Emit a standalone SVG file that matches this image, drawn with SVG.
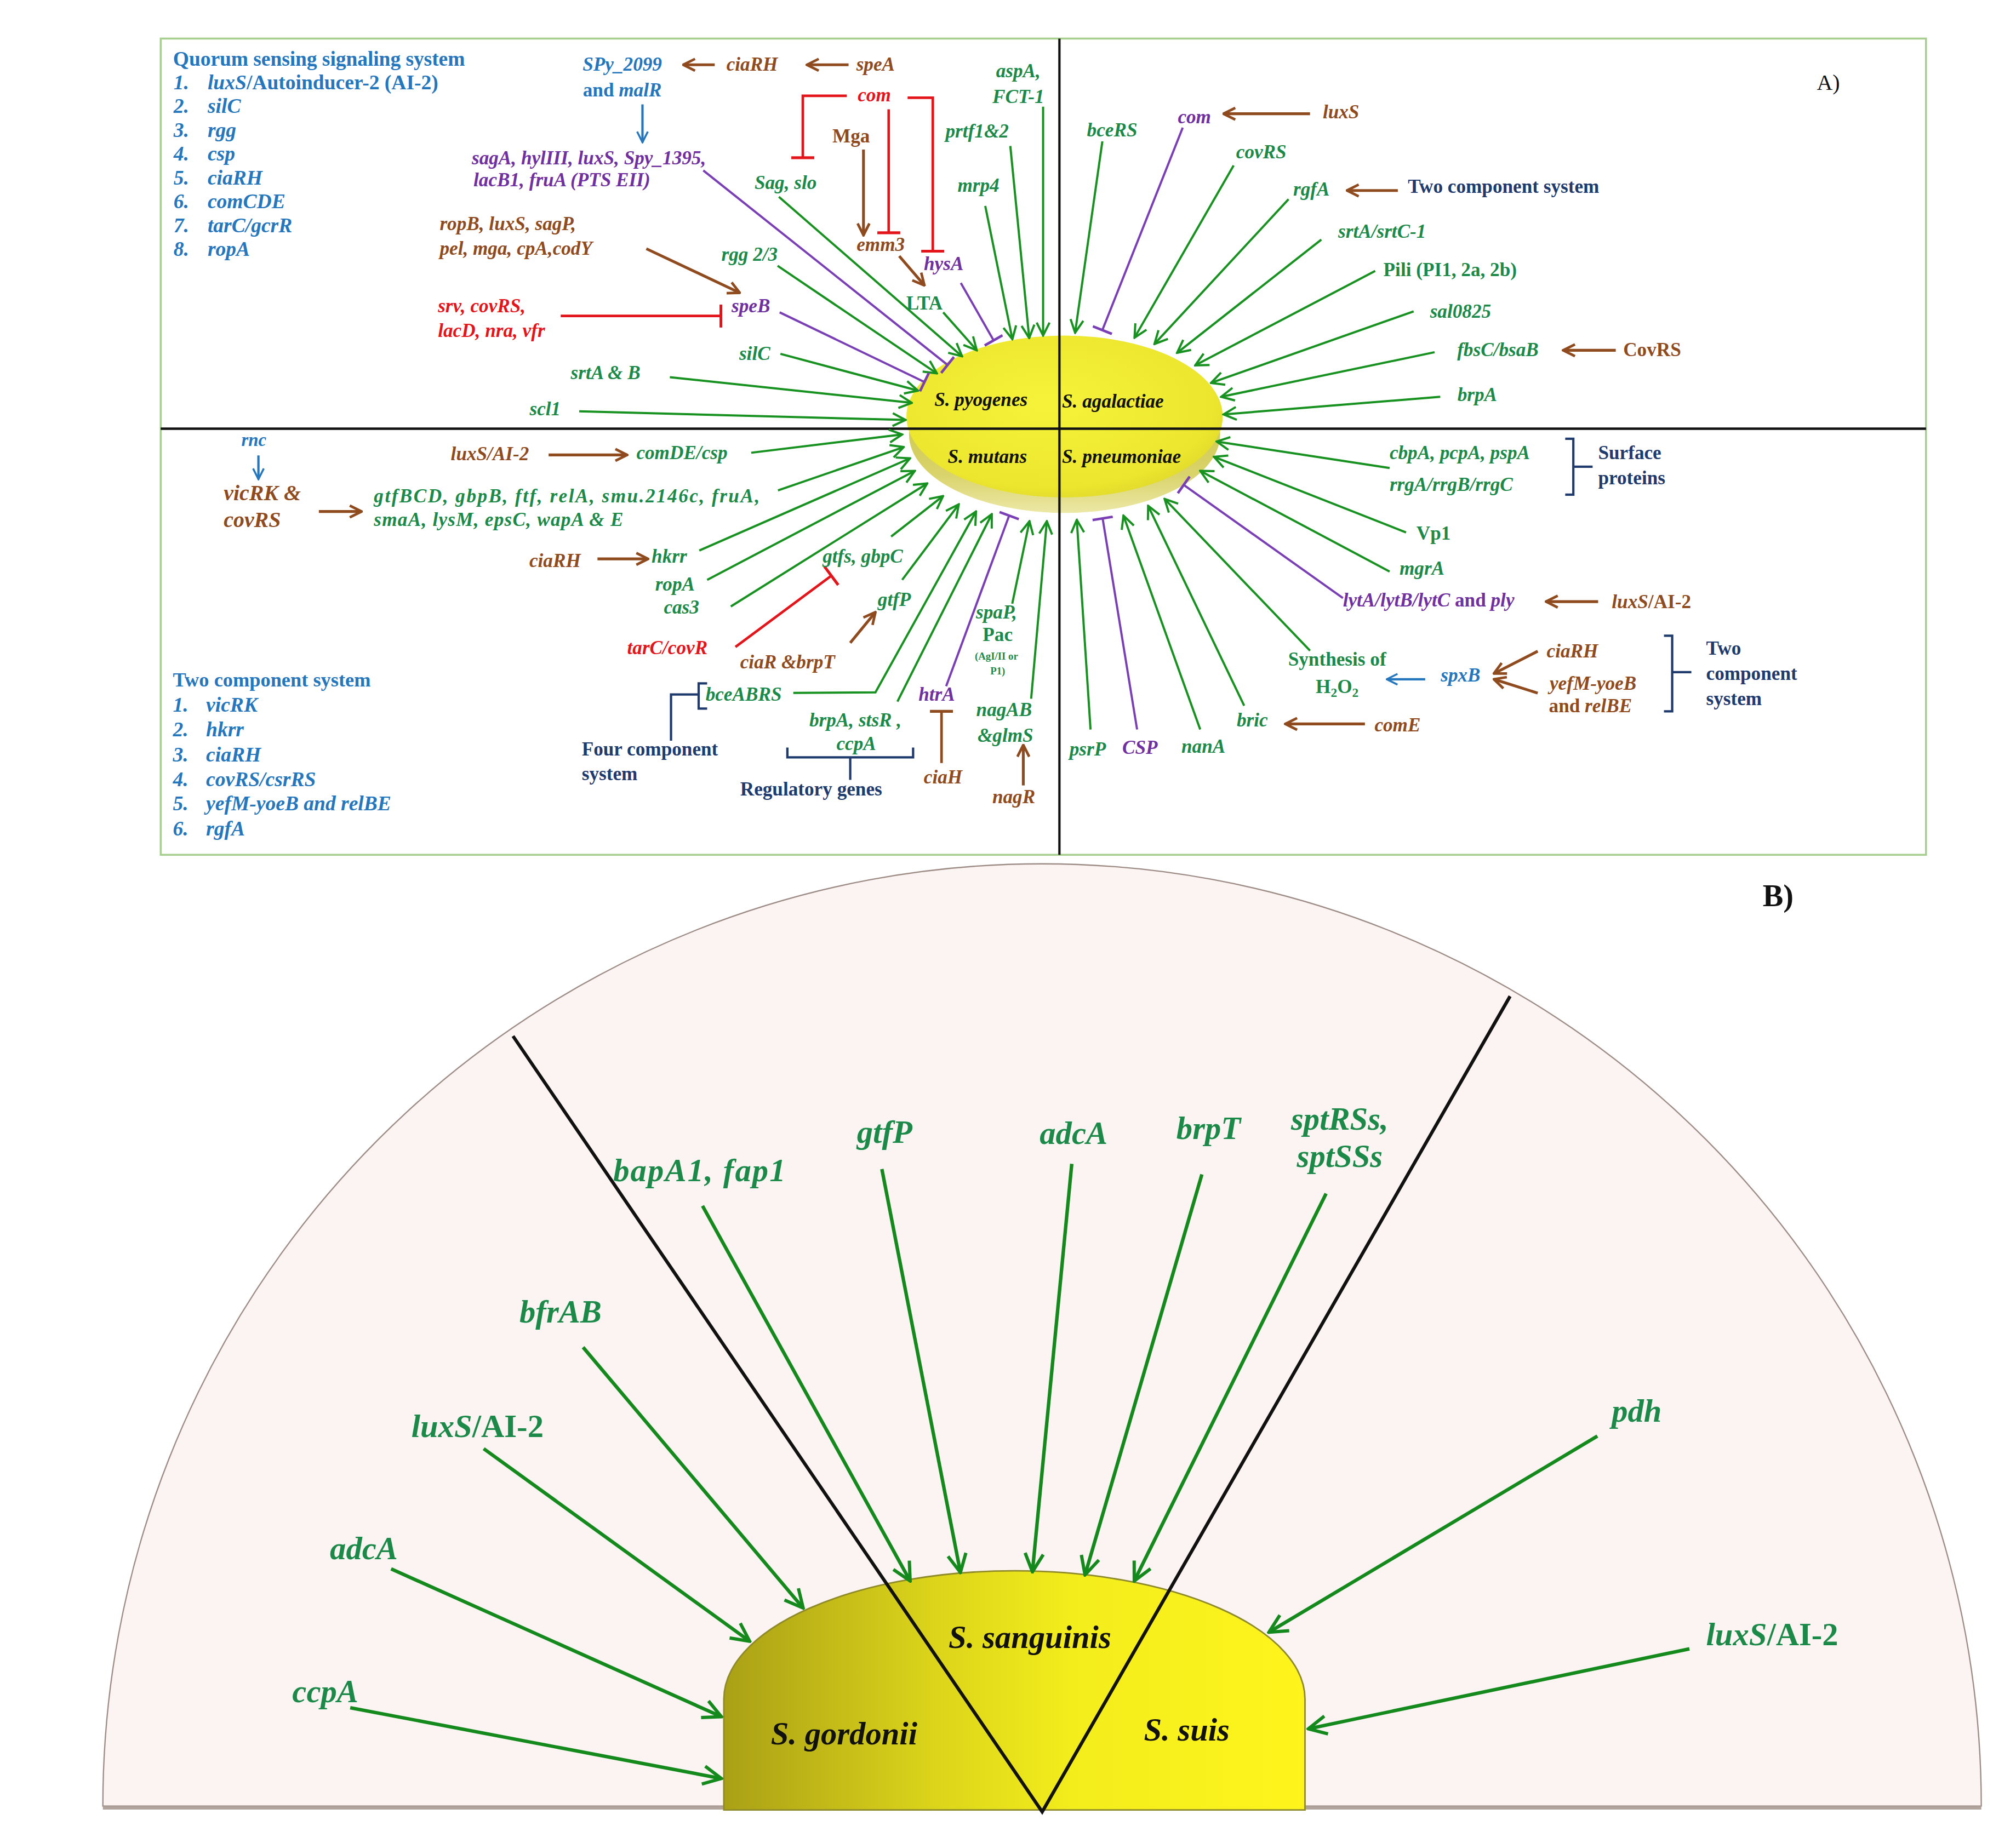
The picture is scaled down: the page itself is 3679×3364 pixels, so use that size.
<svg xmlns="http://www.w3.org/2000/svg" width="3679" height="3364" viewBox="0 0 3679 3364">
<style>
.t{font-family:"Liberation Serif","Times New Roman",serif;font-weight:bold;font-size:15px}
.i{font-style:italic}
.n{font-style:normal}
.g{fill:#1b8a48}.bl{fill:#2577bd}.pu{fill:#7030a0}.br{fill:#8f4a1d}.rd{fill:#e3151b}.nv{fill:#1f3b6e}.k{fill:#111}
.m{text-anchor:middle}
.L16{font-size:16px}.L17{font-size:17px}.B{font-size:25px}
.lg{stroke:#17911f;stroke-width:1.7;fill:none;marker-end:url(#ag)}
.lp{stroke:#7a3fb5;stroke-width:1.7;fill:none;marker-end:url(#tp)}
.lr{stroke:#e3151b;stroke-width:2;fill:none;marker-end:url(#tr)}
.lt{stroke:#8f4a1d;stroke-width:2;fill:none;marker-end:url(#tb)}
.lb{stroke:#8f4a1d;stroke-width:2.2;fill:none;marker-end:url(#ab)}
.lbl{stroke:#2577bd;stroke-width:1.8;fill:none;marker-end:url(#abl)}
.nvl{stroke:#1f3b6e;stroke-width:1.8;fill:none}
.lB{stroke:#14891c;stroke-width:2.7;fill:none;marker-end:url(#aB)}
</style>
<defs>
<marker id="ag" viewBox="0 0 12 12" refX="11" refY="6" markerWidth="12" markerHeight="12" orient="auto" markerUnits="userSpaceOnUse"><path d="M1,1 L11,6 L1,11" fill="none" stroke="#17911f" stroke-width="1.7"/></marker>
<marker id="ab" viewBox="0 0 12 12" refX="11" refY="6" markerWidth="11" markerHeight="11" orient="auto" markerUnits="userSpaceOnUse"><path d="M1,1 L11,6 L1,11" fill="none" stroke="#8f4a1d" stroke-width="2.2"/></marker>
<marker id="abl" viewBox="0 0 12 12" refX="11" refY="6" markerWidth="10" markerHeight="10" orient="auto" markerUnits="userSpaceOnUse"><path d="M1,1 L11,6 L1,11" fill="none" stroke="#2577bd" stroke-width="1.8"/></marker>
<marker id="aB" viewBox="0 0 12 12" refX="11" refY="6" markerWidth="17" markerHeight="17" orient="auto" markerUnits="userSpaceOnUse"><path d="M1,1 L11,6 L1,11" fill="none" stroke="#14891c" stroke-width="1.8"/></marker>
<marker id="tp" viewBox="0 0 4 16" refX="2" refY="8" markerWidth="4" markerHeight="16" orient="auto" markerUnits="userSpaceOnUse"><path d="M2,0 V16" stroke="#7a3fb5" stroke-width="2"/></marker>
<marker id="tr" viewBox="0 0 4 18" refX="2" refY="9" markerWidth="4" markerHeight="18" orient="auto" markerUnits="userSpaceOnUse"><path d="M2,0 V18" stroke="#e3151b" stroke-width="2.2"/></marker>
<marker id="tb" viewBox="0 0 4 18" refX="2" refY="9" markerWidth="4" markerHeight="18" orient="auto" markerUnits="userSpaceOnUse"><path d="M2,0 V18" stroke="#8f4a1d" stroke-width="2.2"/></marker>
<radialGradient id="face" cx="0.45" cy="0.42" r="0.65"><stop offset="0" stop-color="#f6f33a"/><stop offset="0.8" stop-color="#ece62e"/><stop offset="1" stop-color="#dcd52a"/></radialGradient>
<linearGradient id="rim" x1="0" y1="0" x2="0" y2="1"><stop offset="0" stop-color="#c4bd34"/><stop offset="0.75" stop-color="#d9d36a"/><stop offset="1" stop-color="#ece8a6"/></linearGradient>
<linearGradient id="dome" x1="563" y1="0" x2="1015" y2="0" gradientUnits="userSpaceOnUse"><stop offset="0" stop-color="#aaa016"/><stop offset="0.35" stop-color="#dad31a"/><stop offset="0.6" stop-color="#f3ed1c"/><stop offset="1" stop-color="#fff51c"/></linearGradient>
</defs>
<rect width="3679" height="3364" fill="#fff"/>
<g transform="scale(2.3463)">
<g id="panelA-frame">
<rect x="125" y="30" width="1373" height="635" fill="none" stroke="#a6cf8f" stroke-width="1.5"/>
</g>
<g id="node-ellipse">
<ellipse cx="828" cy="338" rx="121" ry="61" fill="url(#rim)"/>
<ellipse cx="828" cy="324" rx="123" ry="63" fill="url(#face)"/>
</g>
<g id="dividers-A">
<line x1="824" y1="30" x2="824" y2="665" stroke="#111" stroke-width="1.8"/>
<line x1="125" y1="333.5" x2="1498" y2="333.5" stroke="#111" stroke-width="2"/>
</g>
<g id="species-A" class="t i k">
<text x="763" y="316" class="m">S. pyogenes</text>
<text x="826" y="317">S. agalactiae</text>
<text x="768" y="360" class="m">S. mutans</text>
<text x="826" y="360">S. pneumoniae</text>
</g>
<g id="connectors">
<path class="lg" d="M450.5,320 L704.3,326.7"/>
<path class="lg" d="M521,293.4 L709.2,313.4"/>
<path class="lg" d="M607,275.3 L714,303.9"/>
<path class="lg" d="M604.8,206.8 L728.7,290.5"/>
<path class="lg" d="M605.8,153.1 L748.3,277.2"/>
<path class="lg" d="M733.6,243 L759.7,272.5"/>
<path class="lg" d="M766.3,160.2 L787.4,263.9"/>
<path class="lg" d="M785.8,113.6 L800.5,263"/>
<path class="lg" d="M811.3,83 L811.3,261"/>
<path class="lg" d="M857.4,110 L836.2,258.8"/>
<path class="lg" d="M959.5,128.7 L882.4,262.7"/>
<path class="lg" d="M1002.2,155 L897.9,267.6"/>
<path class="lg" d="M1027.7,186.4 L915.5,274.5"/>
<path class="lg" d="M1069.6,210.8 L929.6,284.2"/>
<path class="lg" d="M1099.5,242.2 L941.9,297.9"/>
<path class="lg" d="M1115.8,274 L949.8,308.7"/>
<path class="lg" d="M1120.2,308.7 L951.6,322.4"/>
<path class="lg" d="M584.3,352.2 L701.7,338"/>
<path class="lg" d="M605.1,381.5 L702.9,347.8"/>
<path class="lg" d="M543.9,428.3 L707.8,356.5"/>
<path class="lg" d="M550,451.1 L711.5,366.3"/>
<path class="lg" d="M568.4,471.8 L721.2,376.1"/>
<path class="lg" d="M693.1,417.4 L733.5,385.9"/>
<path class="lg" d="M701.7,451.1 L745.7,392.4"/>
<path class="lg" d="M617,539 L680.9,538.6 L759.1,397.9"/>
<path class="lg" d="M698,545.8 L771.4,400"/>
<path class="lg" d="M787.3,469.6 L800.7,405.5"/>
<path class="lg" d="M802,543.6 L814.2,405.5"/>
<path class="lg" d="M848.2,567.5 L837.5,404.4"/>
<path class="lg" d="M933.5,567.5 L873.8,401.1"/>
<path class="lg" d="M967.7,549 L893,393.5"/>
<path class="lg" d="M1018.9,506.2 L905.8,388.1"/>
<path class="lg" d="M1080.8,444.6 L933.5,366.3"/>
<path class="lg" d="M1093.6,414.2 L944.2,355.4"/>
<path class="lg" d="M1080.8,364.1 L946.3,343.5"/>
<path class="lp" d="M547,132.6 L737,283.9"/>
<path class="lp" d="M606.4,243 L719,297.2"/>
<path class="lp" d="M747.3,220.1 L772.8,264.8"/>
<path class="lp" d="M919.9,99.3 L857.4,256.8"/>
<path class="lp" d="M735.9,533.8 L784.9,401.1"/>
<path class="lp" d="M884.4,567.5 L857.6,403.3"/>
<path class="lp" d="M1044.5,465.3 L920.7,377.2"/>
<path class="lr" d="M658.6,74.5 H624.4 V122.7"/>
<path class="lr" d="M705.9,76 H725.5 V195.4"/>
<path class="lr" d="M691.2,85 V181.1"/>
<path class="lr" d="M436.1,245.8 H560.7"/>
<path class="lr" d="M572,503.3 L646.6,447.9"/>
<path class="lt" d="M732.3,593.6 V553.4"/>
<path class="lb" d="M555.9,50.4 H531.4"/>
<path class="lb" d="M660,50.4 H627.6"/>
<path class="lb" d="M671.6,116.4 V183"/>
<path class="lb" d="M699.4,199.2 L719,222"/>
<path class="lb" d="M502.7,193.5 L575.4,227.8"/>
<path class="lb" d="M1018.9,88.5 H951.6"/>
<path class="lb" d="M1087.2,148.2 H1047.6"/>
<path class="lb" d="M1256.7,272.5 H1215.8"/>
<path class="lb" d="M248,397.9 H281.2"/>
<path class="lb" d="M426.7,353.9 H487.8"/>
<path class="lb" d="M464.7,434.8 H504.1"/>
<path class="lb" d="M661.3,500.1 L680.9,476.2"/>
<path class="lb" d="M795.9,611 V579.5"/>
<path class="lb" d="M1243,468 H1202.4"/>
<path class="lb" d="M1196,506.6 L1161.9,524"/>
<path class="lb" d="M1196,539.2 L1161.9,528.4"/>
<path class="lb" d="M1061.6,563.2 H999.7"/>
<path class="lbl" d="M499.7,81.2 V110.7"/>
<path class="lbl" d="M201,354.3 V372.8"/>
<path class="lbl" d="M1108.5,528.4 H1078.6"/>
<path class="nvl" d="M521.9,576.2 V540.3 H543.4 M550,531.6 H543.4 V551.2 H550"/>
<path class="nvl" d="M612.4,581.6 V589.2 H710.2 V581.6 M661.3,589.2 V606.7"/>
<path class="nvl" d="M1217.4,341.3 H1223.7 V384.8 H1217.4 M1223.7,363.1 H1238.7"/>
<path class="nvl" d="M1294.2,494.6 H1300.6 V553.4 H1294.2 M1300.6,522.9 H1315.5"/>
</g>
<g id="legend-quorum" class="t bl L16">
<text x="134.6" y="51" textLength="227">Quorum sensing signaling system</text>
<g class="i">
<text x="135" y="69.5">1.</text><text x="161.5" y="69.5">luxS<tspan class="n">/Autoinducer-2 (AI-2)</tspan></text>
<text x="135" y="88">2.</text><text x="161.5" y="88">silC</text>
<text x="135" y="106.5">3.</text><text x="161.5" y="106.5">rgg</text>
<text x="135" y="125">4.</text><text x="161.5" y="125">csp</text>
<text x="135" y="143.5">5.</text><text x="161.5" y="143.5">ciaRH</text>
<text x="135" y="162">6.</text><text x="161.5" y="162">comCDE</text>
<text x="135" y="180.5">7.</text><text x="161.5" y="180.5">tarC/gcrR</text>
<text x="135" y="199">8.</text><text x="161.5" y="199">ropA</text>
</g>
</g>
<g id="legend-tcs" class="t bl">
<text x="134.5" y="534" style="font-size:15.5px">Two component system</text>
<g class="i L16">
<text x="134.5" y="553.5">1.</text><text x="160.3" y="553.5">vicRK</text>
<text x="134.5" y="573">2.</text><text x="160.3" y="573">hkrr</text>
<text x="134.5" y="592.5">3.</text><text x="160.3" y="592.5">ciaRH</text>
<text x="134.5" y="611.5">4.</text><text x="160.3" y="611.5">covRS/csrRS</text>
<text x="134.5" y="630.5">5.</text><text x="160.3" y="630.5">yefM-yoeB and relBE</text>
<text x="134.5" y="650">6.</text><text x="160.3" y="650">rgfA</text>
</g>
</g>
<g id="labels-pyogenes" class="t i">
<text x="484" y="55" class="m bl">SPy_2099</text>
<text x="484" y="75" class="m bl"><tspan class="n">and </tspan>malR</text>
<text x="585" y="55" class="m br">ciaRH</text>
<text x="681" y="55" class="m br">speA</text>
<text x="458" y="128" class="m pu">sagA, hylIII, luxS, Spy_1395,</text>
<text x="437" y="145" class="m pu">lacB1, fruA (PTS EII)</text>
<text x="342" y="179" class="br">ropB, luxS, sagP,</text>
<text x="342" y="198" class="br">pel, mga, cpA,codY</text>
<text x="340.6" y="243" class="rd">srv, covRS,</text>
<text x="340.6" y="262" class="rd">lacD, nra, vfr</text>
<text x="680" y="79" class="m rd">com</text>
<text x="662" y="111" class="m br n">Mga</text>
<text x="685" y="195" class="m br">emm3</text>
<text x="611" y="147" class="m g">Sag, slo</text>
<text x="734" y="210" class="m pu">hysA</text>
<text x="719" y="241" class="m g n">LTA</text>
<text x="583" y="203" class="m g">rgg 2/3</text>
<text x="584" y="243" class="m pu">speB</text>
<text x="587" y="280" class="m g">silC</text>
<text x="471" y="295" class="m g">srtA &amp; B</text>
<text x="424" y="323" class="m g">scl1</text>
<text x="761" y="149" class="m g">mrp4</text>
<text x="760" y="107" class="m g">prtf1&amp;2</text>
<text x="792" y="60" class="m g">aspA,</text>
<text x="792" y="80" class="m g">FCT-1</text>
</g>
<g id="label-A"><text x="1422" y="70" class="m k" style="font-family:'Liberation Serif',serif;font-size:17px">A)</text></g>
<g id="labels-agalactiae" class="t i">
<text x="929" y="96" class="m pu">com</text>
<text x="1043" y="92" class="m br">luxS</text>
<text x="865" y="106" class="m g">bceRS</text>
<text x="981" y="123" class="m g">covRS</text>
<text x="1020" y="152" class="m g">rgfA</text>
<text x="1095" y="150" class="nv n">Two component system</text>
<text x="1075" y="185" class="m g">srtA/srtC-1</text>
<text x="1076" y="215" class="g n">Pili (PI1, 2a, 2b)</text>
<text x="1136" y="247" class="m g">sal0825</text>
<text x="1165" y="277" class="m g">fbsC/bsaB</text>
<text x="1285" y="277" class="m br n">CovRS</text>
<text x="1149" y="312" class="m g">brpA</text>
</g>
<g id="labels-mutans" class="t i">
<text x="197.5" y="347" class="m bl" style="font-size:14px">rnc</text>
<text x="174" y="389" class="br L17">vicRK &amp;</text>
<text x="174" y="410" class="br L17">covRS</text>
<text x="290.8" y="391" class="g" textLength="300">gtfBCD,  gbpB,  ftf,  relA,  smu.2146c,  fruA,</text>
<text x="290.8" y="409" class="g" textLength="194">smaA, lysM, epsC, wapA &amp; E</text>
<text x="350.6" y="358" class="br">luxS/AI-2</text>
<text x="495" y="357" class="g">comDE/csp</text>
<text x="411.7" y="441" class="br">ciaRH</text>
<text x="506.8" y="437.6" class="g">hkrr</text>
<text x="509.6" y="459.4" class="g">ropA</text>
<text x="516.3" y="477.5" class="g">cas3</text>
<text x="487.8" y="509" class="rd">tarC/covR</text>
<text x="639.8" y="437.7" class="g">gtfs, gbpC</text>
<text x="695.6" y="471.4" class="m g">gtfP</text>
<text x="575.7" y="520" class="br">ciaR &amp;brpT</text>
<text x="548.8" y="545" class="g">bceABRS</text>
<text x="629.5" y="565" class="g">brpA, stsR ,</text>
<text x="666" y="583.4" class="m g">ccpA</text>
<text x="575.7" y="619" class="nv n">Regulatory genes</text>
<text x="452.5" y="587.7" class="nv n">Four component</text>
<text x="452.5" y="607" class="nv n">system</text>
<text x="728.6" y="545" class="m pu">htrA</text>
<text x="733.5" y="609.5" class="m br">ciaH</text>
<text x="775" y="481" class="m g">spaP,</text>
<text x="776" y="498.6" class="m g n">Pac</text>
<text x="775" y="513" class="m g n" style="font-size:8px">(AgI/II or</text>
<text x="776" y="524.5" class="m g n" style="font-size:8px">P1)</text>
<text x="781" y="557" class="m g">nagAB</text>
<text x="782" y="577" class="m g">&amp;glmS</text>
<text x="788.5" y="624.7" class="m br">nagR</text>
</g>
<g id="labels-pneumoniae" class="t i">
<text x="1080.8" y="357" class="g">cbpA, pcpA, pspA</text>
<text x="1080.8" y="382" class="g">rrgA/rrgB/rrgC</text>
<text x="1243" y="357" class="nv n">Surface</text>
<text x="1243" y="376.8" class="nv n">proteins</text>
<text x="1115" y="420" class="m g n">Vp1</text>
<text x="1106" y="447" class="m g">mgrA</text>
<text x="1044.5" y="472" class="pu">lytA/lytB/lytC<tspan class="n"> and </tspan>ply</text>
<text x="1253.6" y="473" class="br">luxS<tspan class="n">/AI-2</tspan></text>
<text x="1040" y="518" class="m g n">Synthesis of</text>
<text x="1040" y="539" class="m g n">H<tspan font-size="10" dy="3">2</tspan><tspan dy="-3">O</tspan><tspan font-size="10" dy="3">2</tspan></text>
<text x="1136" y="530" class="m bl">spxB</text>
<text x="1223" y="511.6" class="m br">ciaRH</text>
<text x="1239" y="536.6" class="m br">yefM-yoeB</text>
<text x="1237" y="554" class="m br"><tspan class="n">and </tspan>relBE</text>
<text x="1327" y="509.4" class="nv n">Two</text>
<text x="1327" y="529" class="nv n">component</text>
<text x="1327" y="548.6" class="nv n">system</text>
<text x="974" y="565" class="m g">bric</text>
<text x="1087" y="569" class="m br">comE</text>
<text x="936" y="585.6" class="m g">nanA</text>
<text x="886.6" y="586.6" class="m pu">CSP</text>
<text x="846" y="587.7" class="m g">psrP</text>
</g>
<g id="panelB-background">
<path d="M80,1405 A730.5,733 0 0 1 1541,1405 Z" fill="#fbf4f2" stroke="#9e8c86" stroke-width="1"/>
<line x1="80" y1="1406.5" x2="1541" y2="1406.5" stroke="#b3a39d" stroke-width="2.5"/>
</g>
<g id="node-dome">
<path d="M563,1408 V1322 A226,100 0 0 1 1015,1322 V1408 Z" fill="url(#dome)" stroke="#8f8a2a" stroke-width="1.2"/>
</g>
<g id="dividers-B">
<path d="M399,806 L810.6,1409.5 L1174.5,775" fill="none" stroke="#111" stroke-width="2.6"/>
</g>
<g id="connectors-B">
<path class="lB" d="M546.4,938.1 L707.9,1229.9"/>
<path class="lB" d="M685.9,909.5 L747,1223.3"/>
<path class="lB" d="M833.6,905.4 L803,1222.8"/>
<path class="lB" d="M934.8,913.6 L843.9,1225.2"/>
<path class="lB" d="M1031.4,928.5 L882.2,1229.9"/>
<path class="lB" d="M1242.4,1117.2 L986.9,1269.8"/>
<path class="lB" d="M1314,1282.7 L1017.6,1344.9"/>
<path class="lB" d="M453.5,1048.1 L624.7,1251"/>
<path class="lB" d="M376.2,1127 L583.1,1276.8"/>
<path class="lB" d="M304.2,1220.5 L561.1,1335.5"/>
<path class="lB" d="M272.4,1328.5 L561.1,1383.6"/>
</g>
<g id="labels-B" class="t i B g">
<text x="477" y="919" textLength="134">bapA1,  fap1</text>
<text x="688" y="889" class="m">gtfP</text>
<text x="835" y="890" class="m">adcA</text>
<text x="940" y="886" class="m">brpT</text>
<text x="1042" y="879" class="m">sptRSs,</text>
<text x="1042" y="908" class="m">sptSSs</text>
<text x="436" y="1029" class="m">bfrAB</text>
<text x="320" y="1118">luxS<tspan class="n">/AI-2</tspan></text>
<text x="283" y="1213" class="m">adcA</text>
<text x="253" y="1324" class="m">ccpA</text>
<text x="1273" y="1106" class="m">pdh</text>
<text x="1327" y="1280">luxS<tspan class="n">/AI-2</tspan></text>
</g>
<g id="species-B" class="t i B k">
<text x="656.5" y="1357" class="m">S. gordonii</text>
<text x="801" y="1282" class="m">S. sanguinis</text>
<text x="923" y="1354" class="m">S. suis</text>
</g>
<g id="label-B"><text x="1383" y="705" class="t k m" style="font-size:24px">B)</text></g>
</g>
</svg>
